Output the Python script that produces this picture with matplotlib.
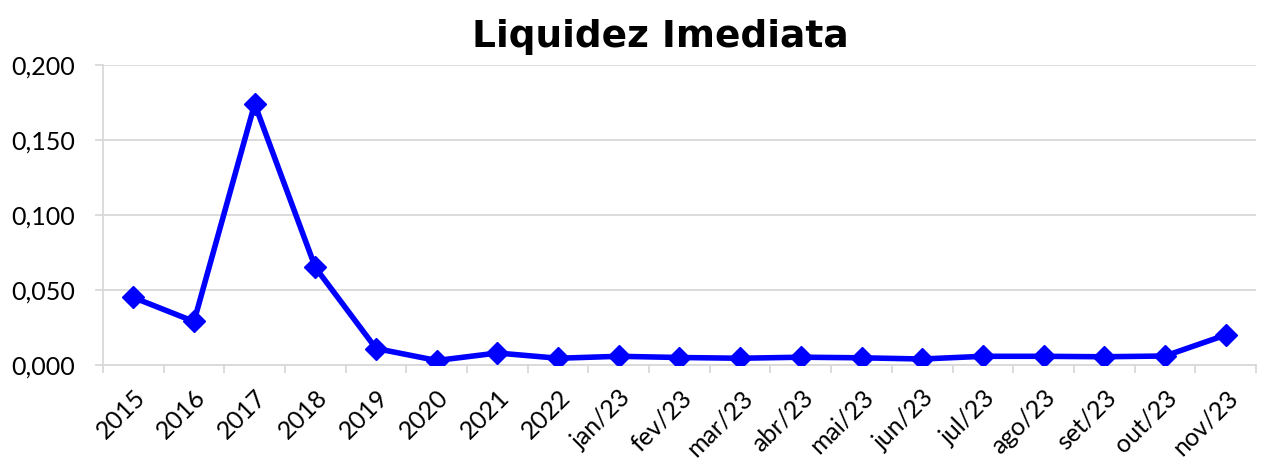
import numpy as np
import matplotlib
matplotlib.use('Agg')
import matplotlib.pyplot as plt
from matplotlib.ticker import FuncFormatter, FixedLocator

# Data
categories = ['2015', '2016', '2017', '2018', '2019', '2020', '2021', '2022',
              'jan/23', 'fev/23', 'mar/23', 'abr/23', 'mai/23', 'jun/23',
              'jul/23', 'ago/23', 'set/23', 'out/23', 'nov/23']
values = [0.045, 0.029, 0.174, 0.065, 0.011, 0.003, 0.008, 0.0045,
          0.0058, 0.005, 0.0045, 0.0052, 0.0048, 0.004,
          0.0058, 0.0058, 0.0055, 0.006, 0.020]
y_ticks = [0.0, 0.05, 0.10, 0.15, 0.20]

plt.rcParams['font.family'] = ['DejaVu Sans']
tick_font = dict(family='Lato', size=18)

fig = plt.figure(figsize=(12.79, 4.67), dpi=100)
ax = fig.add_axes([0.0805, 0.2184, 0.9015, 0.6426])

x = np.arange(len(categories))
ax.plot(x, values, color='#0000ff', linewidth=4, marker='D', markersize=11,
        solid_joinstyle='round', zorder=3)

ax.set_xlim(-0.5, len(categories) - 0.5)
ax.set_ylim(0, 0.2)
ax.set_yticks(y_ticks)
ax.yaxis.set_major_formatter(FuncFormatter(lambda v, p: f'{v:.3f}'.replace('.', ',')))

# Excel-style category axis: ticks on boundaries, labels in the middle
ax.xaxis.set_major_locator(FixedLocator(np.arange(-0.5, len(categories), 1.0)))
ax.xaxis.set_major_formatter(FuncFormatter(lambda v, p: ''))
ax.xaxis.set_minor_locator(FixedLocator(x))
ax.set_xticklabels(categories, minor=True, rotation=45, ha='right',
                   rotation_mode='anchor', fontproperties=tick_font)
for lab in ax.get_yticklabels():
    lab.set_fontproperties(tick_font)
ax.tick_params(axis='x', which='major', length=6, color='#d9d9d9', width=1.3)
ax.tick_params(axis='x', which='minor', length=0, pad=15)
ax.tick_params(axis='y', length=6, color='#d9d9d9', width=1.3, pad=14)

ax.grid(axis='y', color='#d9d9d9', linewidth=1.3)
ax.set_axisbelow(True)
for side in ['top', 'right']:
    ax.spines[side].set_visible(False)
for side in ['left', 'bottom']:
    ax.spines[side].set_color('#d9d9d9')
    ax.spines[side].set_linewidth(1.3)

fig.text(0.516, 0.899, 'Liquidez Imediata', fontsize=27, fontweight='bold',
         ha='center', va='baseline')

fig.savefig('out.png', dpi=100)
